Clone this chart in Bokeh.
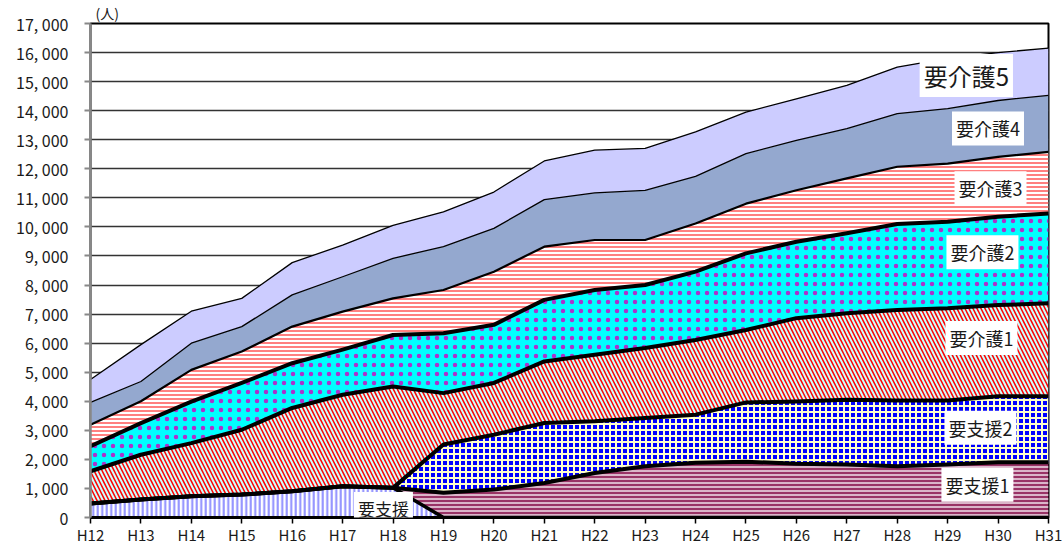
from bokeh.plotting import figure
from bokeh.models import ColumnDataSource, Range1d, FixedTicker, Label
from bokeh.transform import stack
from bokeh.embed import file_html
from bokeh.resources import INLINE

# ---- data ----
years = ["H12", "H13", "H14", "H15", "H16", "H17", "H18", "H19", "H20", "H21",
         "H22", "H23", "H24", "H25", "H26", "H27", "H28", "H29", "H30", "H31"]
year_num = [12, 13, 14, 15, 16, 17, 18, 19, 20, 21, 22, 23, 24, 25, 26, 27, 28, 29, 30, 31]

shien = [480, 620, 730, 790, 900, 1075, 1020, 0, 0, 0, 0, 0, 0, 0, 0, 0, 0, 0, 0, 0]
shien1 = [0, 0, 0, 0, 0, 0, 0, 850, 960, 1190, 1530, 1760, 1880, 1920, 1850, 1820, 1760, 1820, 1900, 1900]
shien2 = [0, 0, 0, 0, 0, 0, 0, 1660, 1890, 2060, 1780, 1660, 1660, 2040, 2140, 2230, 2270, 2210, 2270, 2270]
kaigo1 = [1110, 1540, 1830, 2230, 2870, 3150, 3490, 1770, 1780, 2120, 2290, 2410, 2570, 2490, 2870, 2980, 3110, 3170, 3140, 3200]
kaigo2 = [860, 1090, 1430, 1610, 1540, 1550, 1770, 2060, 2000, 2120, 2230, 2170, 2350, 2640, 2630, 2750, 2960, 2980, 3040, 3090]
kaigo3 = [740, 750, 1090, 1080, 1260, 1310, 1260, 1490, 1830, 1830, 1720, 1550, 1660, 1710, 1770, 1890, 1970, 2000, 2060, 2120]
kaigo4 = [770, 680, 920, 860, 1090, 1200, 1380, 1490, 1490, 1620, 1620, 1710, 1620, 1720, 1720, 1710, 1830, 1890, 1940, 1950]
kaigo5 = [790, 1270, 1100, 970, 1110, 1090, 1130, 1200, 1250, 1330, 1470, 1440, 1530, 1430, 1430, 1490, 1600, 1730, 1650, 1620]

series_names = ["shien", "shien1", "shien2", "kaigo1", "kaigo2", "kaigo3", "kaigo4", "kaigo5"]
series_labels = ["要支援", "要支援1", "要支援2", "要介護1", "要介護2", "要介護3", "要介護4", "要介護5"]

y_ticks = list(range(0, 17001, 1000))
y_tick_labels = ["0"] + [f"{v // 1000:,}, 000" for v in y_ticks[1:]]

# ---- figure ----
FONT = "Noto Sans CJK JP"
src = ColumnDataSource(dict(x=year_num, shien=shien, shien1=shien1, shien2=shien2,
                            kaigo1=kaigo1, kaigo2=kaigo2, kaigo3=kaigo3,
                            kaigo4=kaigo4, kaigo5=kaigo5))

p = figure(width=1064, height=547, output_backend="svg", toolbar_location=None,
           x_range=Range1d(12, 31), y_range=Range1d(0, 17000),
           min_border_left=90, min_border_right=16, min_border_top=23, min_border_bottom=29,
           title="(人)")
p.title.text_font = FONT
p.title.text_font_size = "14px"
p.title.text_font_style = "normal"
p.title.text_color = "#1a1a1a"
p.title.align = "left"
p.title.offset = 5
p.title.standoff = 1
p.background_fill_color = "white"
p.outline_line_color = "black"
p.outline_line_width = 2

fills = ["white", "#993366", "#0000ff", "#ccffff", "#00ffff", "white", "#94a8cf", "#ccccff"]
hatches = ["vertical_line", "horizontal_line", "cross", "left_diagonal_line", "dot",
           "horizontal_line", "blank", "blank"]
hcolors = ["#8c8cff", "#f0e0ea", "#ffffcc", "#ff0000", "#aa33cc", "#ff8080", "black", "black"]
hscales = [4.5, 4, 6, 8, 9, 4, 8, 8]
hweights = [2, 1.5, 2, 1.5, 0.35, 2, 1, 1]

p.varea_stack(stackers=series_names, x="x", source=src,
              fill_color=fills, hatch_pattern=hatches, hatch_color=hcolors,
              hatch_scale=hscales, hatch_weight=hweights)

lwidths = [3.5, 4, 4, 4, 4, 2.2, 1.3, 1.3]
for i in range(len(series_names)):
    p.line(x="x", y=stack(*series_names[:i + 1]), source=src,
           line_color="black", line_width=lwidths[i], line_join="round")

# ---- axes ----
p.xaxis.ticker = FixedTicker(ticks=year_num)
p.xaxis.major_label_overrides = {n: lbl for n, lbl in zip(year_num, years)}
p.yaxis.ticker = FixedTicker(ticks=y_ticks)
p.yaxis.major_label_overrides = {v: lbl for v, lbl in zip(y_ticks, y_tick_labels)}

for ax in (p.xaxis, p.yaxis):
    ax.minor_tick_line_color = None
    ax.major_label_text_font = FONT
    ax.major_label_text_color = "#1a1a1a"
    ax.major_tick_in = 0
    ax.major_tick_out = 6

p.xaxis.axis_line_color = "black"
p.xaxis.axis_line_width = 3
p.xaxis.major_tick_line_color = "black"
p.xaxis.major_tick_line_width = 1.5
p.xaxis.major_label_text_font_size = "15px"
p.xaxis.major_label_standoff = 0

p.yaxis.axis_line_color = "#888888"
p.yaxis.axis_line_width = 2.5
p.yaxis.major_tick_line_color = "#888888"
p.yaxis.major_tick_line_width = 2
p.yaxis.major_label_text_font_size = "16px"
p.yaxis.major_label_standoff = 16

p.xgrid.grid_line_color = None
p.ygrid.grid_line_color = "#333333"
p.ygrid.grid_line_width = 1.5

# ---- labels ----
label_pos = [
    (17.81, 310, 17),
    (29.59, 1130, 18),
    (29.65, 3090, 18),
    (29.67, 6180, 18),
    (29.69, 9130, 18),
    (29.85, 11330, 18),
    (29.80, 13390, 18),
    (29.37, 15210, 24),
]
for (lx, ly, fs), txt in zip(label_pos, series_labels):
    p.add_layout(Label(x=lx, y=ly, text=txt, text_align="center", text_baseline="middle",
                       text_font=FONT, text_font_size=f"{fs}px", text_color="#1a1a1a",
                       background_fill_color="white", padding=4))

open("out.html", "w").write(file_html(p, INLINE))
